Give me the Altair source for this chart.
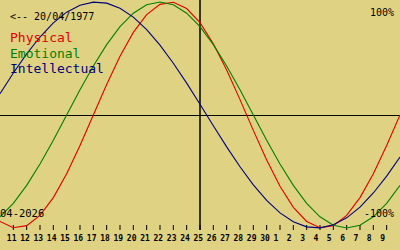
import altair as alt
import pandas as pd

# Day labels: 10 April 2026 .. 10 May 2026 (center = 25 April)
day_labels = [str(d) for d in range(10, 31)] + [str(d) for d in range(1, 11)]

# Biorhythm values, one per day
physical = [-0.942, -0.998, -0.979, -0.888, -0.731, -0.520, -0.270, 0.000,
            0.270, 0.520, 0.731, 0.888, 0.979, 0.998, 0.942, 0.817,
            0.631, 0.398, 0.136, -0.136, -0.398, -0.631, -0.817, -0.942,
            -0.998, -0.979, -0.888, -0.731, -0.520, -0.270, 0.000]
emotional = [-0.901, -0.782, -0.623, -0.434, -0.223, 0.000, 0.223, 0.434,
             0.623, 0.782, 0.901, 0.975, 1.000, 0.975, 0.901, 0.782,
             0.623, 0.434, 0.223, 0.000, -0.223, -0.434, -0.623, -0.782,
             -0.901, -0.975, -1.000, -0.975, -0.901, -0.782, -0.623]
intellectual = [0.189, 0.372, 0.541, 0.690, 0.815, 0.910, 0.972, 0.999,
                0.990, 0.945, 0.866, 0.756, 0.618, 0.458, 0.282, 0.095,
                -0.095, -0.282, -0.458, -0.618, -0.756, -0.866, -0.945, -0.990,
                -0.999, -0.972, -0.910, -0.815, -0.690, -0.541, -0.372]

series_names = ["Physical", "Emotional", "Intellectual"]
series_colors = ["#e00000", "#008000", "#000080"]

BG = "#e0d283"

idx = list(range(len(day_labels)))
rows = []
for name, vals in zip(series_names, [physical, emotional, intellectual]):
    for i, v in zip(idx, vals):
        rows.append({"i": i, "v": v, "series": name})
df = pd.DataFrame(rows)

ticks_df = pd.DataFrame({"i": idx[1:-1], "label": day_labels[1:-1]})

xs = alt.Scale(domain=[0, 30], range=[0, 400], nice=False, zero=False)
ys = alt.Scale(domain=[-1.19469, 1.01770], range=[250, 0], nice=False, zero=False)

lines = alt.Chart(df).mark_line(strokeWidth=1.1, clip=True).encode(
    x=alt.X("i:Q", scale=xs, axis=None),
    y=alt.Y("v:Q", scale=ys, axis=None),
    color=alt.Color("series:N", scale=alt.Scale(domain=series_names, range=series_colors), legend=None),
    detail="series:N",
)

hline = alt.Chart(pd.DataFrame({"z": [0]})).mark_rule(color="black", strokeWidth=1.2, yOffset=0.5).encode(
    y=alt.Y("z:Q", scale=ys, axis=None),
    x=alt.value(0), x2=alt.value(400),
)

vline = alt.Chart(pd.DataFrame({"c": [15]})).mark_rule(color="black", strokeWidth=1.5).encode(
    x=alt.X("c:Q", scale=xs, axis=None),
    y=alt.value(0), y2=alt.value(230),
)

ticks = alt.Chart(ticks_df).mark_rule(color="black", strokeWidth=1).encode(
    x=alt.X("i:Q", scale=xs, axis=None),
    y=alt.value(225), y2=alt.value(230),
)

tick_labels = alt.Chart(ticks_df).mark_text(
    font="DejaVu Sans Mono", fontSize=8, fontWeight="bold", align="left",
    baseline="alphabetic", dx=-6.5, color="black",
).encode(
    x=alt.X("i:Q", scale=xs, axis=None),
    y=alt.value(241),
    text="label:N",
)

def label(txt, x, y, size, color="black", align="left"):
    return alt.Chart(pd.DataFrame({"t": [txt]})).mark_text(
        font="DejaVu Sans Mono", fontSize=size, align=align,
        baseline="alphabetic", color=color,
    ).encode(x=alt.value(x), y=alt.value(y), text="t:N")

texts = [
    label("<-- 20/04/1977", 10, 20, 10),
    label("Physical", 10, 42, 13, series_colors[0]),
    label("Emotional", 10, 57.5, 13, series_colors[1]),
    label("Intellectual", 10, 73, 13, series_colors[2]),
    label("100%", 394, 16, 10, align="right"),
    label("-100%", 394, 217, 10, align="right"),
    label("04-2026", 0, 217, 10.5),
]

chart = alt.layer(hline, vline, ticks, lines, tick_labels, *texts).properties(
    width=400, height=250, background=BG,
    autosize=alt.AutoSizeParams(type="none"), padding=0,
).configure_view(stroke=None, fill=BG)

chart.save("out.html", embed_options={"renderer": "svg", "actions": False})
